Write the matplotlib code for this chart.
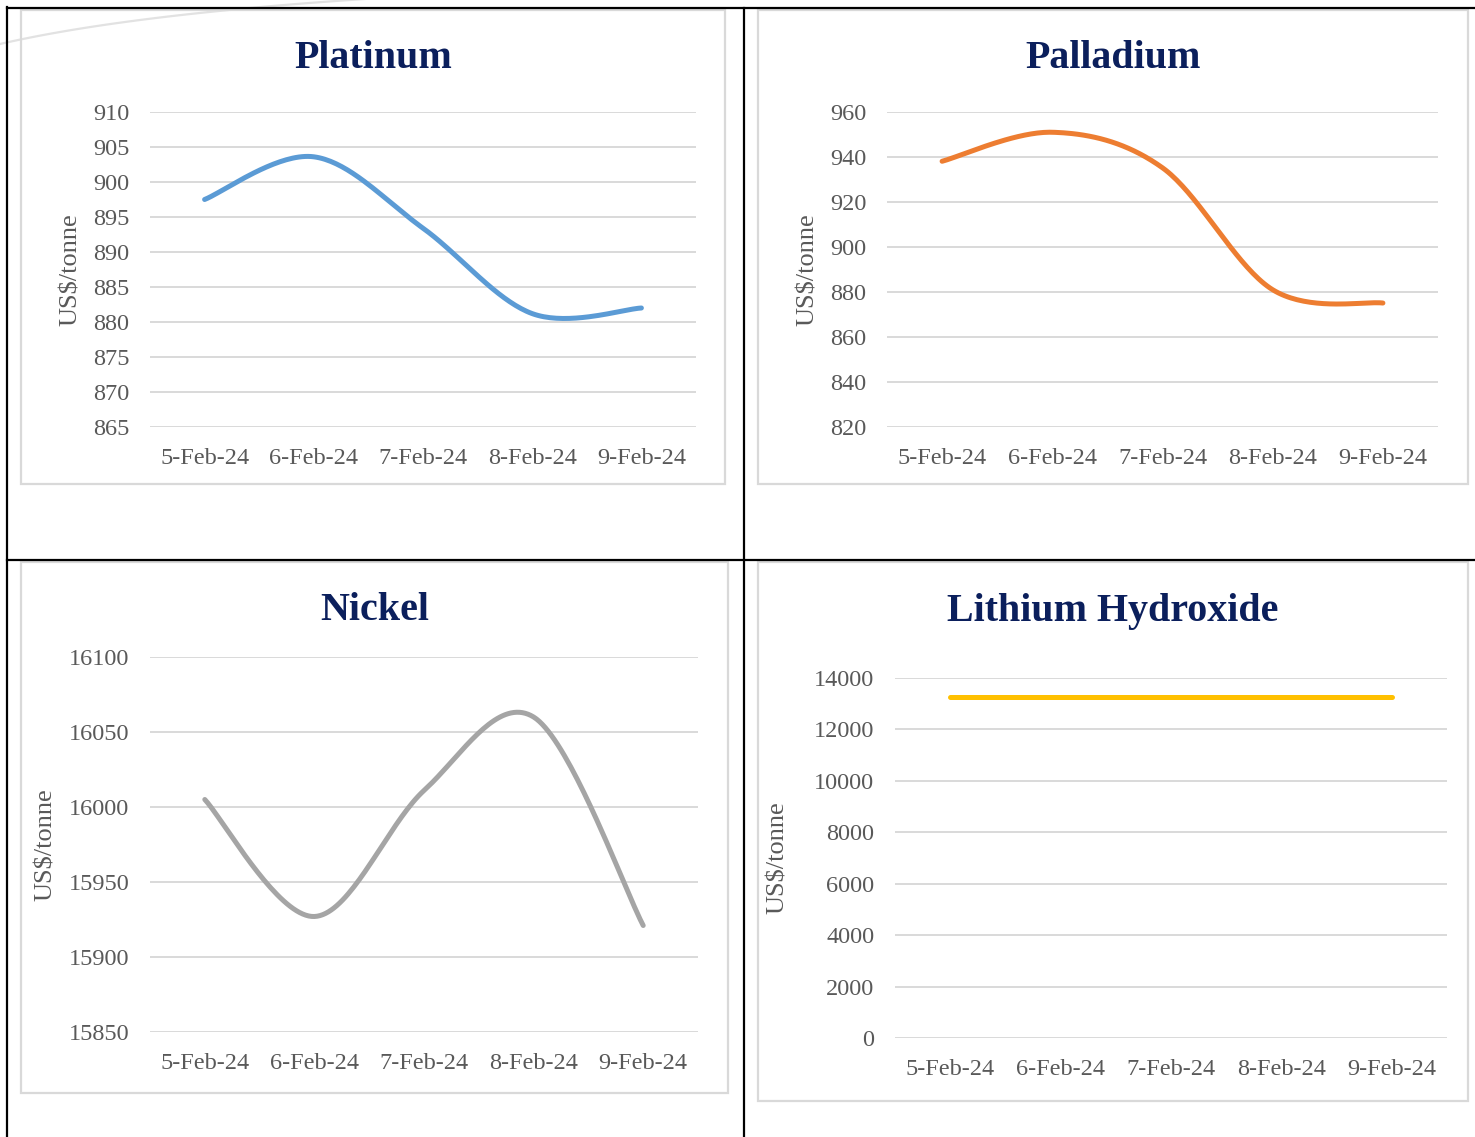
import numpy as np
import matplotlib.pyplot as plt
from matplotlib.lines import Line2D
from matplotlib.patches import Rectangle

# data
dates = ["5-Feb-24", "6-Feb-24", "7-Feb-24", "8-Feb-24", "9-Feb-24"]
platinum = [897.5, 903.6, 893.4, 881.2, 882.0]
palladium = [938.1, 951.0, 935.2, 881.0, 875.1]
nickel = [16005, 15927, 16011, 16060, 15921]
lithium = [13250, 13250, 13250, 13250, 13250]

W, H = 1475, 1137
plt.rcParams["font.family"] = ["Liberation Serif", "DejaVu Serif"]

fig = plt.figure(figsize=(W / 100, H / 100), dpi=100)
fig.patch.set_facecolor("white")

TITLE_COLOR = "#0B1F5C"
TEXT_COLOR = "#595959"
GRID_COLOR = "#D9D9D9"


def px(x, y):
    # pixel coords (top-left origin) -> figure fraction
    return x / W, 1 - y / H


def smooth(xs, ys, n=40):
    # Excel-like smoothed line: Catmull-Rom through the points as cubic Beziers
    pts = np.column_stack([xs, ys]).astype(float)
    ext = np.vstack([pts[0], pts, pts[-1]])
    out = []
    t = np.linspace(0, 1, n)[:, None]
    for i in range(len(pts) - 1):
        p0, p1, p2, p3 = ext[i], ext[i + 1], ext[i + 2], ext[i + 3]
        c1 = p1 + (p2 - p0) / 6
        c2 = p2 - (p3 - p1) / 6
        seg = ((1 - t) ** 3) * p1 + 3 * ((1 - t) ** 2) * t * c1 + 3 * (1 - t) * t ** 2 * c2 + t ** 3 * p2
        out.append(seg if i == 0 else seg[1:])
    out = np.vstack(out)
    return out[:, 0], out[:, 1]


def panel(box, plot, title, title_xy, ylab_xy, values, color, ylim, step):
    # light grey chart frame
    x0, y0, x1, y1 = box
    fig.add_artist(Rectangle(px(x0, y1), (x1 - x0) / W, (y1 - y0) / H,
                             transform=fig.transFigure, fill=False,
                             edgecolor="#D9D9D9", lw=1.6))
    l, t, r, b = plot
    ax = fig.add_axes([l / W, 1 - b / H, (r - l) / W, (b - t) / H])
    ax.set_facecolor("none")
    xs = np.arange(len(dates))
    sx, sy = smooth(xs, values)
    ax.plot(sx, sy, color=color, lw=3.6, solid_capstyle="round", zorder=3)
    ax.set_xlim(-0.5, len(dates) - 0.5)
    ax.set_ylim(*ylim)
    ax.set_yticks(np.arange(ylim[0], ylim[1] + step / 2, step))
    ax.set_xticks(xs)
    ax.set_xticklabels(dates)
    ax.grid(axis="y", color=GRID_COLOR, lw=1.4)
    ax.set_axisbelow(True)
    for s in ax.spines.values():
        s.set_visible(False)
    ax.tick_params(length=0, labelsize=17.5, colors=TEXT_COLOR)
    ax.tick_params(axis="y", pad=15)
    ax.tick_params(axis="x", pad=15)
    for lab in ax.get_yticklabels():
        lab.set_clip_on(False)
    fig.text(*px(*title_xy), title, ha="center", va="center",
             fontsize=28.8, fontweight="bold", color=TITLE_COLOR)
    fig.text(*px(*ylab_xy), "US$/tonne", ha="center", va="center",
             rotation=90, fontsize=19, color=TEXT_COLOR)
    return ax


panel((21, 10, 725, 484), (150, 112, 696, 427), "Platinum", (373, 58), (71, 270),
      platinum, "#5B9BD5", (865, 910), 5)
panel((758, 10, 1468, 484), (887, 112, 1438, 427), "Palladium", (1113, 58), (808, 270),
      palladium, "#ED7D31", (820, 960), 20)
panel((21, 562, 728, 1093), (150, 657, 698, 1032), "Nickel", (375, 610), (46, 845),
      nickel, "#A5A5A5", (15850, 16100), 50)
panel((758, 562, 1468, 1101), (895, 678, 1447, 1038), "Lithium Hydroxide", (1113, 611), (778, 858),
      lithium, "#FFC000", (0, 14000), 2000)

# faint decorative arc behind the table, top-left corner
t = np.linspace(0, 1, 60)
ax_ = (1 - t) ** 2 * 0 + 2 * (1 - t) * t * 130 + t ** 2 * 380
ay_ = (1 - t) ** 2 * 44 + 2 * (1 - t) * t * 14 + t ** 2 * -2
fig.add_artist(Line2D(ax_ / W, 1 - ay_ / H, transform=fig.transFigure,
                      color="#E2E2E2", lw=1.6, zorder=0))

# black table rules
rules = [((7, 7), (7, H)), ((7, W), (8, 8)), ((744, 744), (8, H)), ((7, W), (560, 560))]
for xx, yy in rules:
    fig.add_artist(Line2D(np.array(xx) / W, 1 - np.array(yy) / H,
                          transform=fig.transFigure, color="black", lw=1.6))

plt.savefig("out.png", dpi=100)
